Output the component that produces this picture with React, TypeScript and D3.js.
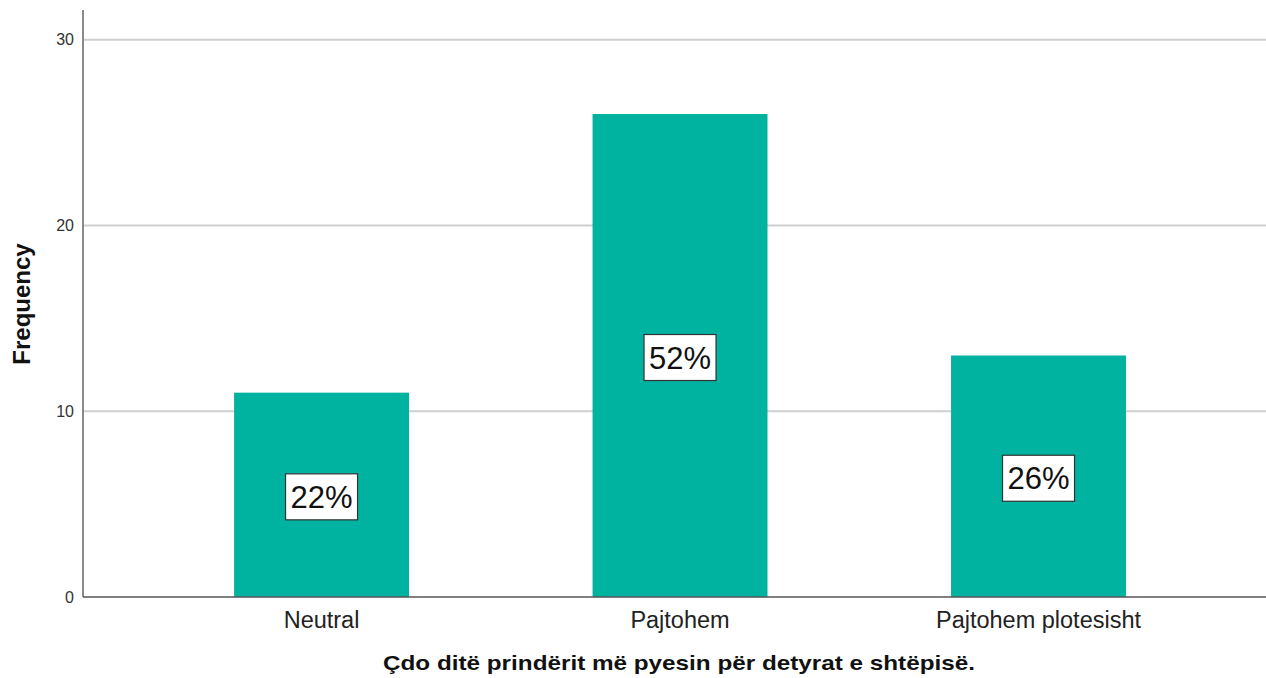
import React, { useEffect, useRef } from "react";
import * as d3 from "d3";

const categories = ["Neutral", "Pajtohem", "Pajtohem plotesisht"];
const frequencies = [11, 26, 13];
const percentLabels = ["22%", "52%", "26%"];
const yTicks = [0, 10, 20, 30];

const App = () => {
  const ref = useRef<SVGSVGElement>(null);

  useEffect(() => {
    const width = 1266;
    const height = 678;
    const left = 83;
    const bottom = 597;
    const top = 10;

    const svg = d3.select(ref.current);
    svg.selectAll("*").remove();
    svg.style("font-family", "'Liberation Sans', Arial, sans-serif");

    const x = d3
      .scaleBand()
      .domain(categories)
      .range([left, width])
      .paddingInner(0.512)
      .paddingOuter(0.406)
      .align(0.519);

    const y = d3.scaleLinear().domain([0, 31.6]).range([bottom, top]);

    // gridlines
    svg
      .append("g")
      .selectAll("line")
      .data(yTicks.filter((t) => t > 0))
      .join("line")
      .attr("x1", left)
      .attr("x2", width)
      .attr("y1", (d) => y(d))
      .attr("y2", (d) => y(d))
      .attr("stroke", "#cfcfcf")
      .attr("stroke-width", 2);

    // bars
    svg
      .append("g")
      .attr("fill", "#00b2a0")
      .selectAll("rect")
      .data(frequencies)
      .join("rect")
      .attr("x", (d, i) => x(categories[i])!)
      .attr("y", (d) => y(d))
      .attr("width", x.bandwidth())
      .attr("height", (d) => y(0) - y(d));

    // percent labels
    const lab = svg
      .append("g")
      .selectAll("g")
      .data(frequencies)
      .join("g")
      .attr(
        "transform",
        (d, i) => `translate(${x(categories[i])! + x.bandwidth() / 2},${y(d / 2) + 2})`
      );
    lab
      .append("rect")
      .attr("x", -36)
      .attr("y", -23)
      .attr("width", 72)
      .attr("height", 46)
      .attr("fill", "#fff")
      .attr("stroke", "#333")
      .attr("stroke-width", 1.2);
    lab
      .append("text")
      .attr("text-anchor", "middle")
      .attr("dy", "0.36em")
      .attr("font-size", 31)
      .attr("fill", "#111")
      .text((d, i) => percentLabels[i]);

    // axes
    svg
      .append("line")
      .attr("x1", left)
      .attr("x2", left)
      .attr("y1", top)
      .attr("y2", bottom)
      .attr("stroke", "#8a8a8a")
      .attr("stroke-width", 2);
    svg
      .append("line")
      .attr("x1", left)
      .attr("x2", width)
      .attr("y1", bottom)
      .attr("y2", bottom)
      .attr("stroke", "#555")
      .attr("stroke-width", 1.5);

    svg
      .append("g")
      .selectAll("text")
      .data(yTicks)
      .join("text")
      .attr("x", 74)
      .attr("y", (d) => y(d))
      .attr("dy", "0.36em")
      .attr("text-anchor", "end")
      .attr("font-size", 16)
      .attr("fill", "#333")
      .text((d) => d);

    svg
      .append("g")
      .selectAll("text")
      .data(categories)
      .join("text")
      .attr("x", (d) => x(d)! + x.bandwidth() / 2)
      .attr("y", 628)
      .attr("text-anchor", "middle")
      .attr("font-size", 23.5)
      .attr("fill", "#222")
      .text((d) => d);

    svg
      .append("text")
      .attr("x", 679)
      .attr("y", 670)
      .attr("text-anchor", "middle")
      .attr("font-size", 21)
      .attr("font-weight", "bold")
      .attr("fill", "#111")
      .attr("textLength", 592)
      .attr("lengthAdjust", "spacingAndGlyphs")
      .text("Çdo ditë prindërit më pyesin për detyrat e shtëpisë.");

    svg
      .append("text")
      .attr("transform", `translate(30,${304}) rotate(-90)`)
      .attr("text-anchor", "middle")
      .attr("font-size", 24)
      .attr("font-weight", "bold")
      .attr("fill", "#111")
      .text("Frequency");
  }, []);

  return (
    <svg
      ref={ref}
      width={1266}
      height={678}
      style={{ position: "absolute", left: 0, top: 0, background: "#fff" }}
    />
  );
};

export default App;
